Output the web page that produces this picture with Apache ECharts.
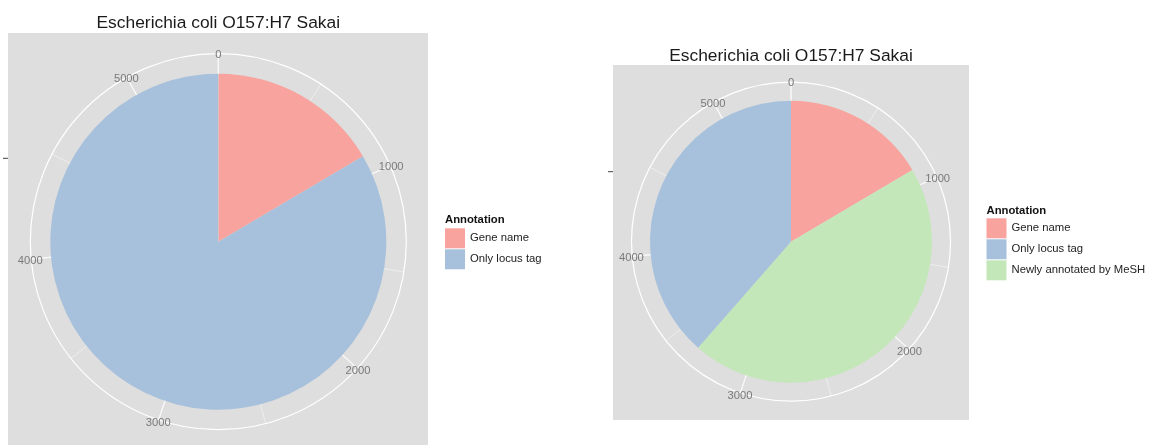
<!DOCTYPE html>
<html><head><meta charset="utf-8">
<script src="https://cdn.jsdelivr.net/npm/echarts@6/dist/echarts.min.js"></script>
<style>html,body{margin:0;padding:0;background:#fff}#c{width:1151px;height:445px}</style>
</head><body><div id="c"></div>
<script>
// ---- data ----
const chartTitle = 'Escherichia coli O157:H7 Sakai';
const legendTitle = 'Annotation';
const leftCategories = ['Gene name', 'Only locus tag'];
const leftValues = [898, 4542];
const rightCategories = ['Gene name', 'Newly annotated by MeSH', 'Only locus tag']; // stacking order
const rightValues = [898, 2445, 2097];
const rightLegendOrder = ['Gene name', 'Only locus tag', 'Newly annotated by MeSH'];
const angleTicks = [0, 1000, 2000, 3000, 4000, 5000];
const majorStep = 1000;
const minorStep = 500;
const colorMap = {
  'Gene name': '#F8A39D',
  'Only locus tag': '#A7C1DC',
  'Newly annotated by MeSH': '#C4E7B9'
};

const FONT = '"Liberation Sans", Arial, Helvetica, sans-serif';
const sum = a => a.reduce((s, v) => s + v, 0);

const panels = [
  {cats: leftCategories, vals: leftValues, legend: leftCategories, cx: 218.3, cy: 241.7, rOuter: 188, rPie: 168,
   rect: [8, 33, 420, 420], titleY: 23.6, legendX: 445, legendTitleY: 219.5, legendTop: 228.3, tickY: 158.3},
  {cats: rightCategories, vals: rightValues, legend: rightLegendOrder, cx: 791, cy: 241.7, rOuter: 159.5, rPie: 141,
   rect: [613, 65, 356, 355], titleY: 56, legendX: 986.5, legendTitleY: 210.5, legendTop: 218.3, tickY: 171.7}
];

const chart = echarts.init(document.getElementById('c'), null, {renderer: 'canvas'});

const polar = [], angleAxis = [], radiusAxis = [], series = [], legend = [];
panels.forEach((p, i) => {
  const total = sum(p.vals);
  const maj = 2 * i, min = 2 * i + 1;
  polar.push({center: [p.cx, p.cy], radius: p.rOuter});
  polar.push({center: [p.cx, p.cy], radius: p.rOuter});
  angleAxis.push({
    polarIndex: maj, type: 'value', min: 0, max: total, interval: majorStep, startAngle: 90, clockwise: true,
    axisLine: {show: true, lineStyle: {color: '#ffffff', width: 1.2}},
    axisTick: {show: false}, axisLabel: {show: false},
    splitLine: {show: true, lineStyle: {color: '#ffffff', width: 1.2}}, z: 1
  });
  angleAxis.push({
    polarIndex: min, type: 'value', min: 0, max: total, interval: minorStep, startAngle: 90, clockwise: true,
    axisLine: {show: false}, axisTick: {show: false}, axisLabel: {show: false},
    splitLine: {show: true, lineStyle: {color: '#f4f4f4', width: 0.7}}, z: 1
  });
  radiusAxis.push({polarIndex: maj, type: 'value', min: 0, max: 1, show: false});
  radiusAxis.push({polarIndex: min, type: 'value', min: 0, max: 1, show: false});
  series.push({
    type: 'pie', center: [p.cx, p.cy], radius: p.rPie, startAngle: 90, clockwise: true,
    silent: true, animation: false, label: {show: false}, labelLine: {show: false},
    emphasis: {disabled: true}, itemStyle: {borderWidth: 0}, z: 3,
    data: p.cats.map((c, k) => ({name: c, value: p.vals[k], itemStyle: {color: colorMap[c]}}))
  });
  legend.push({
    data: p.legend, orient: 'vertical', left: p.legendX, top: p.legendTop, padding: 0,
    itemWidth: 20, itemHeight: 20, itemGap: 1, icon: 'rect', selectedMode: false,
    textStyle: {fontSize: 11.3, color: '#222', fontFamily: FONT, padding: [3, 0, 0, 0]}
  });
});

chart.setOption({
  animation: false,
  backgroundColor: '#ffffff',
  polar, angleAxis, radiusAxis, series, legend
});

const graphic = [];
panels.forEach((p, i) => {
  graphic.push({type: 'rect', z: -10, shape: {x: p.rect[0], y: p.rect[1], width: p.rect[2], height: p.rect[3]},
    style: {fill: '#DEDEDE'}, silent: true});
  graphic.push({type: 'text', z: 50, x: p.cx, y: p.titleY, silent: true,
    style: {text: chartTitle, align: 'center', verticalAlign: 'middle', fontSize: 17.4, fontFamily: FONT, fill: '#1a1a1a'}});
  graphic.push({type: 'text', z: 50, x: p.legendX, y: p.legendTitleY, silent: true,
    style: {text: legendTitle, align: 'left', verticalAlign: 'middle', fontSize: 11.3, fontWeight: 'bold', fontFamily: FONT, fill: '#111'}});
  graphic.push({type: 'line', z: 50, silent: true, shape: {x1: p.rect[0] - 5, y1: p.tickY, x2: p.rect[0], y2: p.tickY},
    style: {stroke: '#444', lineWidth: 1}});
  angleTicks.forEach(t => {
    const pt = chart.convertToPixel({polarIndex: 2 * i}, [1.005, t]);
    if (!pt) return;
    graphic.push({type: 'text', z: 50, x: pt[0], y: pt[1] + 1.8, silent: true,
      style: {text: String(t), align: 'center', verticalAlign: 'middle', fontSize: 11.2, fontFamily: FONT, fill: '#7a7a7a'}});
  });
});
chart.setOption({graphic});
</script>
</body></html>
